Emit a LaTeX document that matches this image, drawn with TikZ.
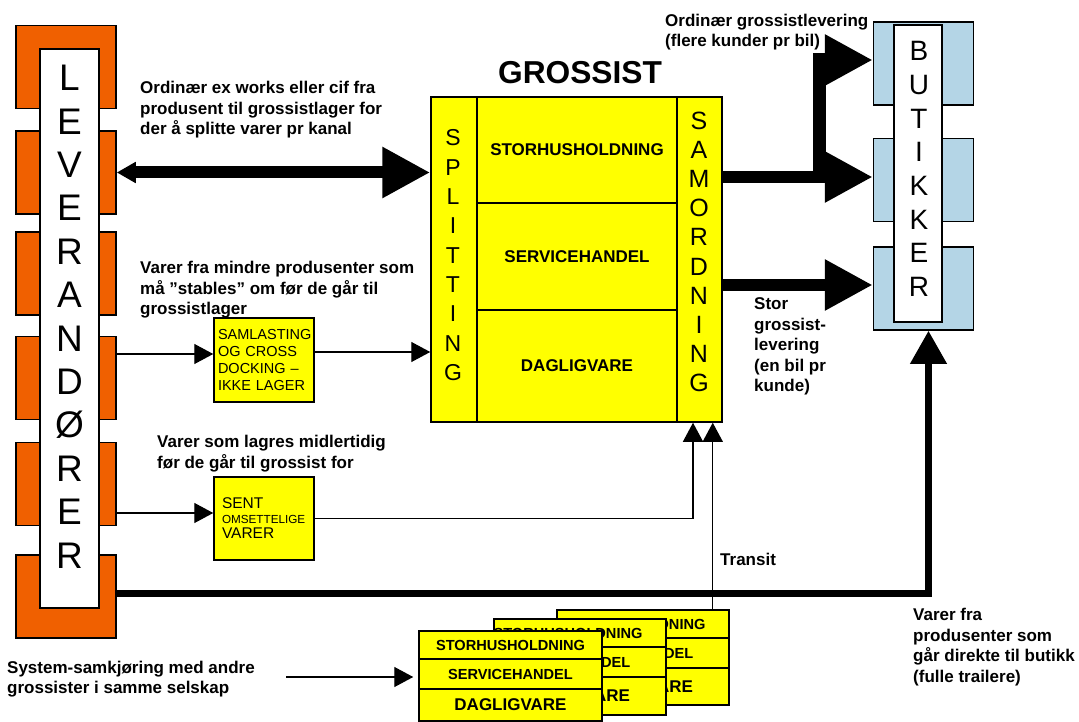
\documentclass[tikz,border=0pt]{standalone}
\usepackage{fontspec}
\setmainfont{Liberation Sans}
\usetikzlibrary{arrows.meta,positioning}
\definecolor{levorange}{RGB}{240,96,0}
\definecolor{shopblue}{RGB}{180,213,230}
\definecolor{boxyellow}{RGB}{255,255,0}

\begin{document}
\begin{tikzpicture}[x=1pt,y=-1pt]
	\tikzstyle{supplier_block} = [rectangle, draw, line width=1.5pt, fill=levorange, minimum width=100pt, minimum height=83pt, inner sep=0pt]
	\tikzstyle{shop_block} = [rectangle, draw, line width=1.5pt, fill=shopblue, minimum width=100pt, minimum height=83pt, inner sep=0pt]
	\tikzstyle{name_strip} = [rectangle, draw, line width=1.5pt, fill=white, inner sep=0pt]
	\tikzstyle{yellow_cell} = [rectangle, draw, line width=1.5pt, fill=boxyellow, inner sep=0pt, font=\bfseries\fontsize{17}{20}\selectfont]
	\tikzstyle{small_box} = [rectangle, draw, line width=1.5pt, fill=boxyellow, minimum width=100pt, minimum height=84pt, align=left, inner ysep=2pt]
	\tikzstyle{stack_cell} = [rectangle, draw, line width=1.5pt, fill=boxyellow, inner sep=0pt, font=\bfseries\fontsize{14.6}{16}\selectfont]
	\tikzstyle{label_text} = [anchor=west, align=left, inner sep=0pt, font=\bfseries\fontsize{17}{20.5}\selectfont]
	\tikzstyle{fat_arrow} = [line width=12pt, -{Triangle[length=48pt,width=48pt]}]
	\tikzstyle{thin_arrow} = [line width=1.4pt, -{Triangle[length=19pt,width=20pt]}]

	\useasboundingbox (0,0) rectangle (1079,722);

	% Leverandorer
	\foreach \y [count=\i] in {67,172.5,273.5,378,484,596.5}
	\node[supplier_block] (lb\i) at (66,\y) {};
	\node[name_strip, minimum width=59pt, minimum height=559pt] (lev) at (69.5,328.5) {};
	\foreach \l [count=\i] in {L,E,V,E,R,A,N,D,Ø,R,E,R}
	\node[inner sep=0pt, font=\fontsize{37}{37}\selectfont] at (69.5,{78+43.4*(\i-1)}) {\l};

	% Grossist
	\node[font=\bfseries\fontsize{31.7}{32}\selectfont, inner sep=0pt] (gtitle) at (580,73) {GROSSIST};
	\node[yellow_cell, minimum width=46pt, minimum height=325pt] (split) at (454,259.5) {};
	\node[yellow_cell, minimum width=45pt, minimum height=325pt] (samord) at (699.5,259.5) {};
	\node[yellow_cell, minimum width=200pt, minimum height=106pt] (storh) at (577,150) {STORHUSHOLDNING};
	\node[yellow_cell, minimum width=200pt, minimum height=107pt] (servh) at (577,256.5) {SERVICEHANDEL};
	\node[yellow_cell, minimum width=200pt, minimum height=112pt] (daglv) at (577,366) {DAGLIGVARE};
	\foreach \l [count=\i] in {S,P,L,I,T,T,I,N,G}
	\node[inner sep=0pt, font=\fontsize{23}{23}\selectfont] at (453,{138+29.3*(\i-1)}) {\l};
	\foreach \l [count=\i] in {S,A,M,O,R,D,N,I,N,G}
	\node[inner sep=0pt, font=\fontsize{25}{25}\selectfont] at (699,{121+29.1*(\i-1)}) {\l};

	% Butikker
	\foreach \y [count=\i] in {63.5,180,288.5}
	\node[shop_block] (bu\i) at (923.5,\y) {};
	\node[name_strip, minimum width=48pt, minimum height=297pt] (but) at (918,173.5) {};
	\begin{scope}
	\clip (894,25) rectangle (927,322);
	\foreach \l [count=\i] in {B,U,T,I,K,K,E,R}
	\node[inner sep=0pt, font=\fontsize{28}{28}\selectfont] at (919,{51+33.7*(\i-1)}) {\l};
	\end{scope}

	% Samlasting and lagring
	\node[small_box, text width=92pt, inner xsep=4pt, font=\fontsize{14.5}{16.7}\selectfont] (samlast) at (264,360) {SAMLASTING\\OG CROSS\\DOCKING --\\IKKE LAGER};
	\node[small_box, minimum height=83pt, text width=84pt, inner xsep=8pt, font=\fontsize{15.5}{15}\selectfont] (sent) at (264,518.5) {SENT\\{\fontsize{11.7}{15}\selectfont OMSETTELIGE}\\VARER};

	% Direct delivery
	\draw[line width=7pt, -{Triangle[length=33pt,width=35pt]}] ([yshift=3.5pt]lb6.east) -| ([xshift=5pt]bu3.south);

	% Other wholesalers (back to front)
	\foreach \cx/\ty/\w/\hc/\sx [count=\k] in {643/610/172/37/-12, 580/619/172/38/-12, 510.5/631/183/32/0} {
		\node[stack_cell, minimum width=\w, minimum height=28pt] (st\k a) at (\cx,{\ty+14}) {};
		\node[stack_cell, minimum width=\w, minimum height=30pt] (st\k b) at (\cx,{\ty+43}) {};
		\node[stack_cell, minimum width=\w, minimum height=\hc] (st\k c) at (\cx,{\ty+58+\hc/2}) {};
		\node[font=\bfseries\fontsize{14.6}{16}\selectfont, inner sep=0pt] at ([xshift=\sx]st\k a.center) {STORHUSHOLDNING};
		\node[font=\bfseries\fontsize{14.6}{16}\selectfont, inner sep=0pt] at ([xshift=\sx]st\k b.center) {SERVICEHANDEL};
		\node[font=\bfseries\fontsize{17}{18}\selectfont, inner sep=0pt] at ([xshift=\sx/2]st\k c.center) {DAGLIGVARE};
	}
	\coordinate (sysstart) at (286,677);

	% Arrows
	\draw[line width=12pt, {Triangle[length=19pt,width=20pt]}-{Triangle[length=48pt,width=48pt]}] (lb2.east) -- (lb2.east -| split.west);
	\draw[thin_arrow] ([yshift=6pt]samlast.west -| lb4.east) -- ([yshift=6pt]samlast.west);
	\draw[thin_arrow] ([yshift=8pt]samlast.east) -- ([yshift=8pt]samlast.east -| split.west);
	\draw[thin_arrow] ([yshift=5.5pt]sent.west -| lb5.east) -- ([yshift=5.5pt]sent.west);
	\draw[thin_arrow] (sent.east) -| ([xshift=-6.5pt]samord.south);
	\draw[thin_arrow] ([xshift=-17pt]st1a.north east) -- ([xshift=-17pt]st1a.north east |- samord.south);
	\draw[thin_arrow] (sysstart) -- ([xshift=-5pt]sysstart -| st3b.west);
	\coordinate (branch) at (819.5,177);
	\draw[fat_arrow] ([yshift=3pt]bu2.west -| samord.east) -- ([yshift=3pt]bu2.west);
	\draw[fat_arrow, line width=13pt] (branch) |- ([yshift=3.5pt]bu1.west);
	\draw[fat_arrow] ([yshift=3.5pt]bu3.west -| samord.east) -- ([yshift=3.5pt]bu3.west);

	% Labels
	\node[label_text] (exworks) at (140,110) {Ordinær ex works eller cif fra\\produsent til grossistlager for\\der å splitte varer pr kanal};
	\node[label_text] (smalllab) at (140,290) {Varer fra mindre produsenter som\\må ”stables” om før de går til\\grossistlager};
	\node[label_text] (storelab) at (157,453.5) {Varer som lagres midlertidig\\før de går til grossist for};
	\node[label_text] (syslab) at (7,679) {System-samkjøring med andre\\grossister i samme selskap};
	\node[label_text] (ordlab) at (665,32) {Ordinær grossistlevering\\(flere kunder pr bil)};
	\node[label_text] (storlev) at (754,346.5) {Stor\\grossist-\\levering\\(en bil pr\\kunde)};
	\node[label_text] (transit) at (720,559) {Transit};
	\node[label_text] (direct) at (913,647) {Varer fra\\produsenter som\\går direkte til butikk\\(fulle trailere)};
\end{tikzpicture}
\end{document}
